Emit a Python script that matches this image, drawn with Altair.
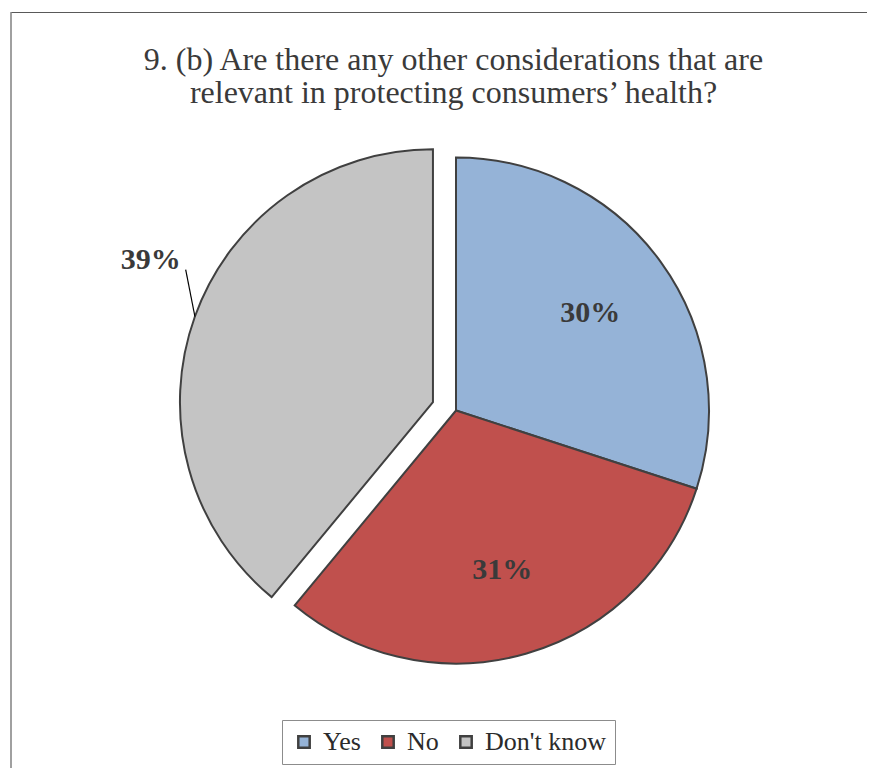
import altair as alt
import pandas as pd

# ---- data ----
categories = ["Yes", "No", "Don't know"]
values = [30, 31, 39]
labels = ["30%", "31%", "39%"]
colors = ["#95B3D7", "#C0504D", "#C4C4C4"]
title_lines = [
    "9. (b) Are there any other considerations that are",
    "relevant in protecting consumers\u2019 health?",
]

df = pd.DataFrame({"category": categories, "value": values,
                   "label": labels, "order": list(range(len(categories)))})

# ---- layout constants (pixels) ----
CX, CY, R = 448, 402.5, 253
EXPLODE = 24.5
INNER_LR = 166
OUTER_LR = 300
OUTER_DY = -41
SERIF = "Liberation Serif"
TXT = "#3a3a3a"

base = (
    alt.Chart(df)
    .transform_window(cum="sum(value)", sort=[alt.SortField("order")], frame=[None, 0])
    .transform_joinaggregate(total="sum(value)")
    .transform_calculate(
        t0="2*PI*(datum.cum - datum.value)/datum.total",
        t1="2*PI*datum.cum/datum.total",
    )
    .transform_calculate(
        mid="(datum.t0 + datum.t1)/2",
        ex=f"datum.order == 2 ? {EXPLODE} : 0",
    )
    .transform_calculate(
        cx=f"{CX} + datum.ex*sin(datum.mid)",
        cy=f"{CY} - datum.ex*cos(datum.mid)",
    )
    .transform_calculate(
        lr=f"datum.order == 2 ? {OUTER_LR} : {INNER_LR}",
        ldy=f"datum.order == 2 ? {OUTER_DY} : 0",
    )
    .transform_calculate(
        lx="datum.cx + datum.lr*sin(datum.mid)",
        ly="datum.cy - datum.lr*cos(datum.mid) + datum.ldy",
        ex1=f"datum.cx + {R}*sin(datum.mid)",
        ey1=f"datum.cy - {R}*cos(datum.mid)",
    )
    .transform_calculate(
        ex2="datum.lx + 35",
        ey2="datum.ly + 10",
    )
)

arcs = base.mark_arc(stroke="#404040", strokeWidth=2, radius=R).encode(
    x=alt.X("cx:Q", scale=None),
    y=alt.Y("cy:Q", scale=None),
    theta=alt.Theta("t0:Q", scale=None, stack=None),
    theta2="t1:Q",
    fill=alt.Fill(
        "category:N",
        scale=alt.Scale(domain=categories, range=colors),
        sort=categories,
        legend=alt.Legend(
            title=None,
            orient="none",
            direction="horizontal",
            legendX=274,
            legendY=712,
            strokeColor="#8c8c8c",
            padding=9,
            symbolType="square",
            symbolSize=130,
            symbolStrokeColor="#404040",
            symbolStrokeWidth=2.5,
            labelFont=SERIF,
            labelFontSize=26,
            labelColor="#2b2b2b",
            labelOffset=6,
            columnPadding=14,
        ),
    ),
)

text_labels = base.mark_text(
    font=SERIF, fontSize=30, fontWeight="bold", color=TXT,
    align="center", baseline="middle",
).encode(
    x=alt.X("lx:Q", scale=None),
    y=alt.Y("ly:Q", scale=None),
    text="label:N",
)

leader = base.transform_filter("datum.order == 2").mark_rule(
    color="#000000", strokeWidth=1.2
).encode(
    x=alt.X("ex1:Q", scale=None),
    y=alt.Y("ey1:Q", scale=None),
    x2="ex2:Q",
    y2="ey2:Q",
)

one = alt.Data(values=[{"k": 1}])

title = alt.Chart(one).mark_text(
    text=title_lines, font=SERIF, fontSize=32, color=TXT,
    align="center", baseline="alphabetic", lineHeight=33,
).encode(x=alt.value(445.5), y=alt.value(62))

border_top = alt.Chart(one).mark_rule(color="#595959", strokeWidth=1).encode(
    x=alt.value(2.5), x2=alt.value(2000), y=alt.value(4.5)
)
border_left = alt.Chart(one).mark_rule(color="#a0a0a0", strokeWidth=2).encode(
    x=alt.value(3), y=alt.value(4.5), y2=alt.value(2000)
)

chart = (
    alt.layer(border_top, border_left, arcs, leader, text_labels, title)
    .properties(width=859, height=760, autosize=alt.AutoSizeParams(type="none"),
                padding=0, background="white")
    .configure_view(stroke=None)
)

chart.save("out.html", embed_options={"renderer": "svg", "actions": False})
